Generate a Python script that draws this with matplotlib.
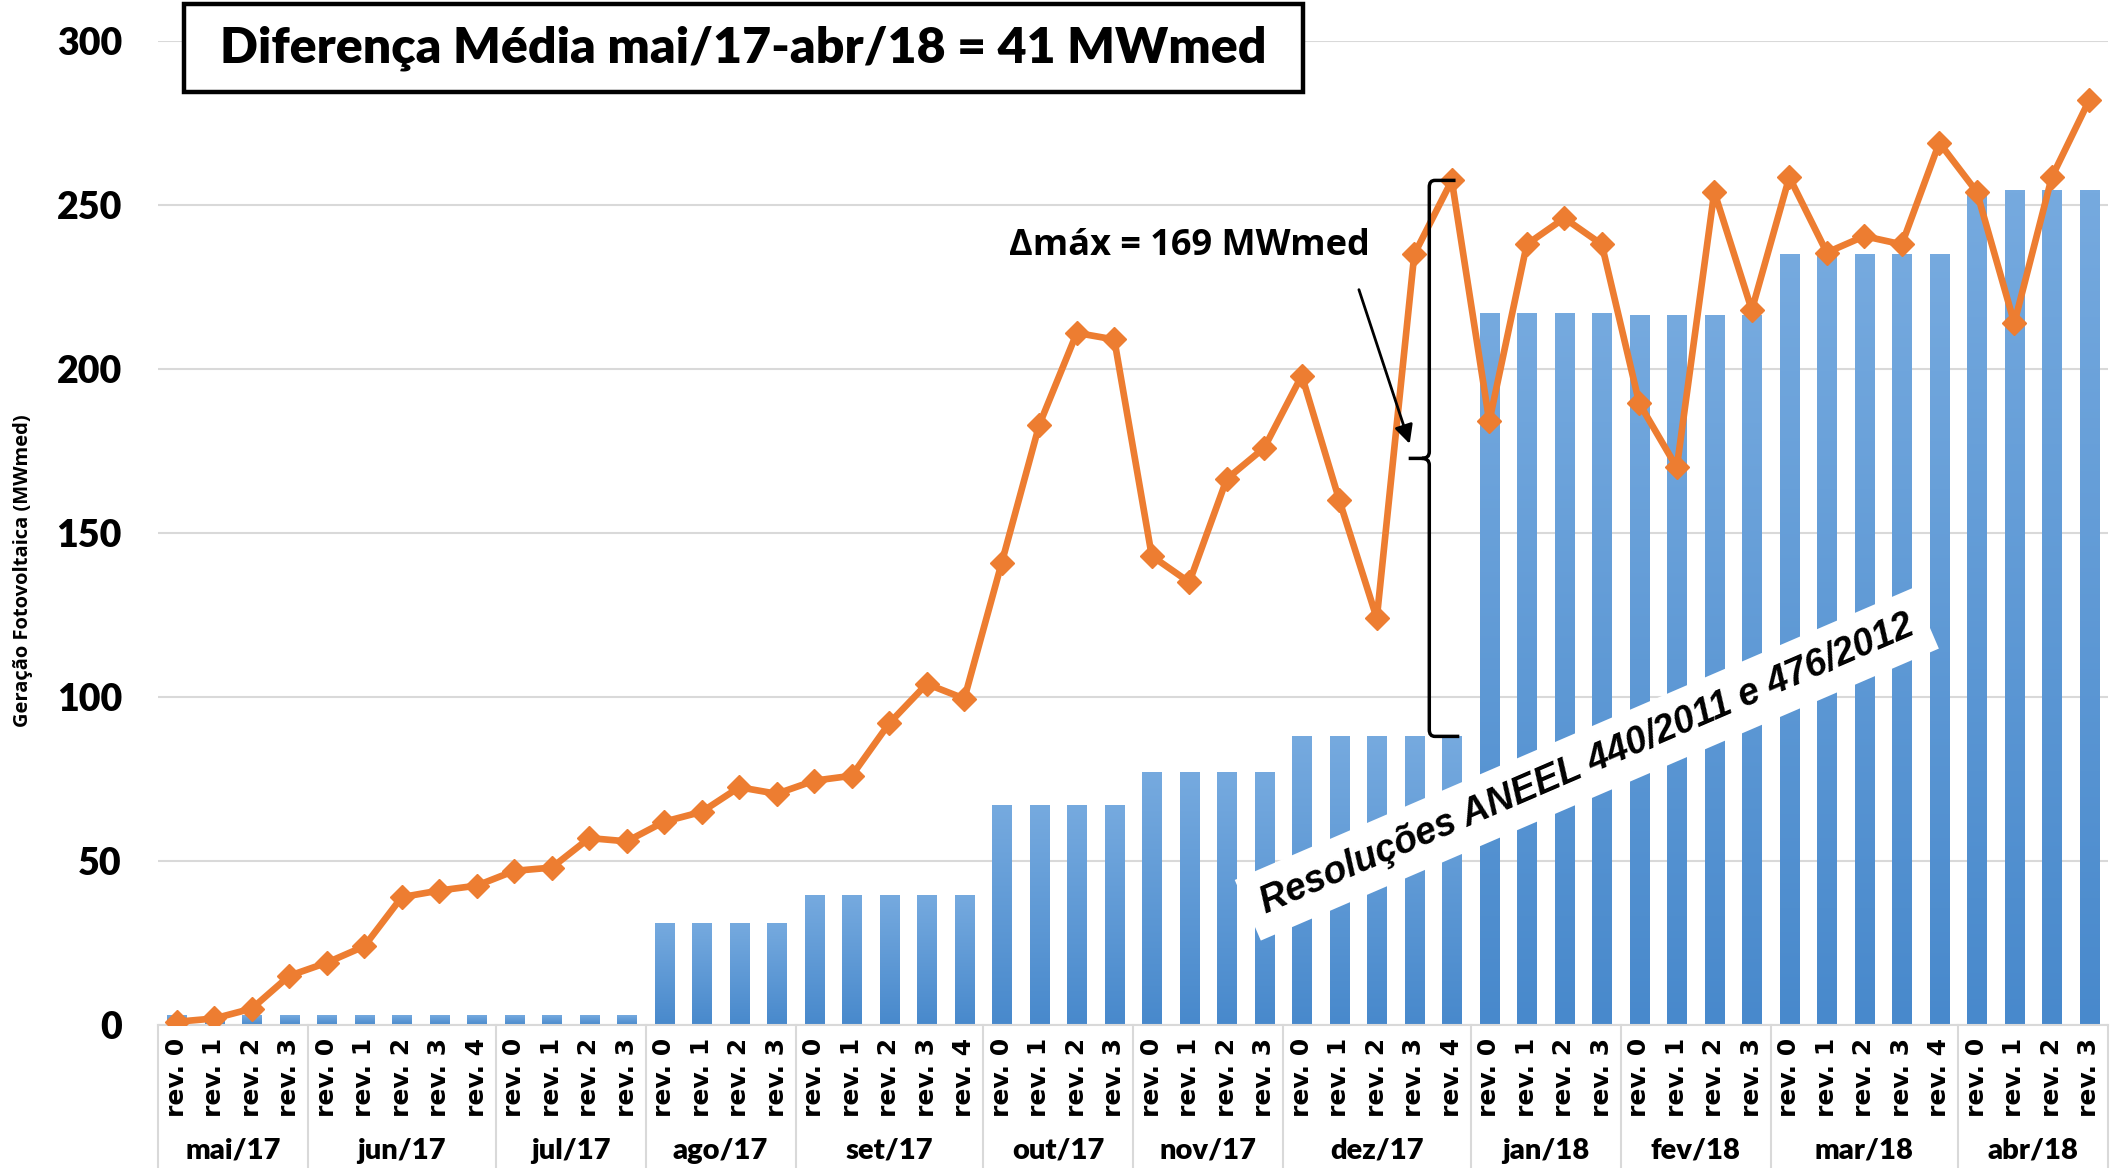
import matplotlib
matplotlib.use("Agg")
import matplotlib.pyplot as plt
import numpy as np
from matplotlib.colors import LinearSegmentedColormap
from matplotlib.patches import PathPatch, Rectangle
from matplotlib.path import Path
from matplotlib.transforms import blended_transform_factory

# monthly groups on the x axis and how many revisions each one has
months = ["mai/17", "jun/17", "jul/17", "ago/17", "set/17", "out/17",
          "nov/17", "dez/17", "jan/18", "fev/18", "mar/18", "abr/18"]
revisions_per_month = [4, 5, 4, 4, 5, 4, 4, 5, 4, 4, 5, 4]

# bars: level considered per month (MWmed)
bar_level = [3, 3, 3, 31, 39.5, 67, 77, 88, 217, 216.5, 235, 254.5]

# line: verified generation per revision (MWmed)
generation = [
    1, 2, 5, 15,
    19, 24, 39, 41, 42.5,
    47, 48, 57, 56,
    62, 65, 72.5, 70.5,
    74.5, 76, 92, 104, 99.5,
    141, 183, 211, 209,
    143, 135, 166.5, 176,
    198, 160, 124, 235, 257.5,
    184, 238, 246, 238,
    189.5, 170, 254, 218,
    258.5, 235.5, 240.5, 238, 269,
    254, 214, 258.5, 282,
]

tick_labels = [f"rev. {r}" for n in revisions_per_month for r in range(n)]
bar_values = np.repeat(bar_level, revisions_per_month)
x = np.arange(len(tick_labels))

orange = "#ed7d31"
grid_grey = "#d9d9d9"

fig = plt.figure(figsize=(21.21, 11.68), dpi=100)
ax = fig.add_axes([0.0745, 0.1224, 0.9194, 0.8425])

# bars with a vertical gradient, like the Excel original
bars = ax.bar(x, bar_values, width=0.52, color="none", zorder=2)
gradient = np.linspace(0, 1, 256).reshape(-1, 1)
bar_cmap = LinearSegmentedColormap.from_list("bar", ["#4889cc", "#76aadf"])
for bar in bars:
    x0, w, h = bar.get_x(), bar.get_width(), bar.get_height()
    im = ax.imshow(gradient, cmap=bar_cmap, origin="lower", aspect="auto",
                   extent=[x0, x0 + w, 0, h], zorder=2)
    im.set_clip_path(bar)

ax.plot(x, generation, color=orange, lw=4.8, marker="D", ms=12,
        markeredgecolor=orange, zorder=4)

ax.set_xlim(-0.5, len(x) - 0.5)
ax.set_ylim(0, 300)

ax.set_yticks(range(0, 301, 50))
ax.yaxis.grid(True, color=grid_grey, lw=1.5)
ax.set_axisbelow(True)
for side in ["top", "right", "left"]:
    ax.spines[side].set_visible(False)
ax.spines["bottom"].set_color(grid_grey)
ax.spines["bottom"].set_linewidth(1.5)

ax.tick_params(axis="y", length=0, pad=26)
for label in ax.get_yticklabels():
    label.set_fontfamily("Lato")
    label.set_fontweight("heavy")
    label.set_fontsize(27)

ax.set_xticks(x)
ax.set_xticklabels(tick_labels, rotation=90, fontsize=18, fontweight="bold",
                   family="DejaVu Sans")
ax.tick_params(axis="x", length=0, pad=9)

# month separators and month names under the revision labels
trans = blended_transform_factory(ax.transData, ax.transAxes)
bounds = np.concatenate([[0], np.cumsum(revisions_per_month)]) - 0.5
for b in bounds:
    ax.plot([b, b], [0, -0.15], transform=trans, color=grid_grey, lw=1.5,
            clip_on=False)
for i, month in enumerate(months):
    center = (bounds[i] + bounds[i + 1]) / 2
    ax.text(center, -0.128, month, transform=trans, ha="center", va="center",
            fontsize=21, fontweight="heavy", family="Lato")

# title box
fig.add_artist(Rectangle((0.0868, 0.9212), 0.5276, 0.0753, transform=fig.transFigure,
                         facecolor="white", edgecolor="black", lw=3.2, zorder=10))
fig.text(0.3506, 0.9589, "Diferença Média mai/17-abr/18 = 41 MWmed", ha="center",
         va="center", fontsize=36, fontweight="heavy", family="Lato", zorder=11)

fig.text(0.0108, 0.511, "Geração Fotovoltaica (MWmed)", rotation=90, ha="center",
         va="center", fontsize=14.5, fontweight="bold", family="Open Sans")

# delta annotation with curly brace
ax.text(31.8, 237.4, "Δmáx = 169 MWmed", ha="right", va="center", fontsize=26,
        fontweight="bold", family="Open Sans", zorder=6)
ax.annotate("", xy=(32.9, 176.4), xytext=(31.5, 225),
            arrowprops=dict(arrowstyle="-|>", color="black", lw=2, mutation_scale=28),
            zorder=6)

top, bottom = 257.5, 88
mid = (top + bottom) / 2
bx = 33.4
verts = [
    (34.1, top), (33.55, top), (bx, top), (bx, top - 2),
    (bx, mid + 2), (bx, mid), (33.2, mid), (32.85, mid),
    (33.2, mid), (bx, mid), (bx, mid - 2),
    (bx, bottom + 2), (bx, bottom), (33.55, bottom), (34.2, bottom),
]
codes = [
    Path.MOVETO, Path.LINETO, Path.CURVE3, Path.CURVE3,
    Path.LINETO, Path.CURVE3, Path.CURVE3, Path.LINETO,
    Path.MOVETO, Path.CURVE3, Path.CURVE3,
    Path.LINETO, Path.CURVE3, Path.CURVE3, Path.LINETO,
]
ax.add_patch(PathPatch(Path(verts, codes), fill=False, lw=2.5, color="black",
                       zorder=6, clip_on=False))

ax.text(37.6, 79.5, "Resoluções ANEEL 440/2011 e 476/2012", rotation=23.3,
        rotation_mode="anchor", ha="center", va="center", fontsize=27,
        fontweight="bold", style="italic", family="Liberation Sans", zorder=5,
        bbox=dict(boxstyle="square,pad=0.4", fc="white", ec="none"))

fig.savefig("out.png", dpi=100)
